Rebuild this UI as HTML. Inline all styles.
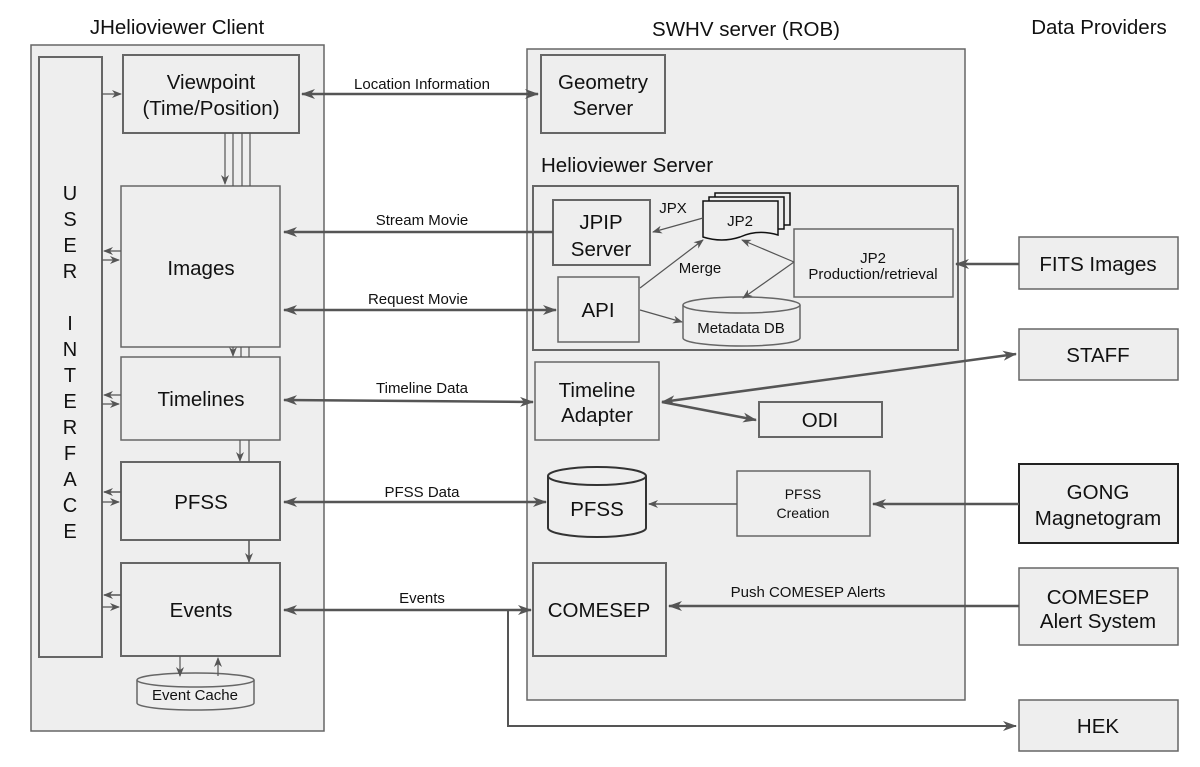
<!DOCTYPE html>
<html><head><meta charset="utf-8"><style>
html,body{margin:0;padding:0;background:#fff}
svg{display:block}
text{font-family:"Liberation Sans",sans-serif;fill:#111}
</style></head><body>
<svg width="1200" height="767" viewBox="0 0 1200 767" xmlns="http://www.w3.org/2000/svg">
<defs>
<marker id="a" markerWidth="10" markerHeight="8" refX="9" refY="4" orient="auto" markerUnits="userSpaceOnUse"><path d="M0,0 L10,4 L0,8 L3,4 z" fill="#555"/></marker>
<marker id="b" markerWidth="14" markerHeight="10" refX="13" refY="5" orient="auto" markerUnits="userSpaceOnUse"><path d="M0,0 L14,5 L0,10 L4,5 z" fill="#555"/></marker>
<marker id="bs" markerWidth="14" markerHeight="10" refX="1" refY="5" orient="auto" markerUnits="userSpaceOnUse"><path d="M14,0 L0,5 L14,10 L10,5 z" fill="#555"/></marker>
</defs>
<g stroke="#666" stroke-width="1.5" fill="#eee">
<rect x="31" y="45" width="293" height="686"/>
<rect x="527" y="49" width="438" height="651"/>
<rect x="39" y="57" width="63" height="600" stroke-width="2"/>
<rect x="123" y="55" width="176" height="78" stroke-width="2"/>
<rect x="121" y="186" width="159" height="161"/>
<rect x="121" y="357" width="159" height="83"/>
<rect x="121" y="462" width="159" height="78" stroke-width="2"/>
<rect x="121" y="563" width="159" height="93" stroke-width="2"/>
<rect x="541" y="55" width="124" height="78" stroke-width="2"/>
<rect x="533" y="186" width="425" height="164" stroke-width="2"/>
<rect x="553" y="200" width="97" height="65" stroke-width="2"/>
<rect x="558" y="277" width="81" height="65"/>
<rect x="794" y="229" width="159" height="68"/>
<rect x="535" y="362" width="124" height="78"/>
<rect x="759" y="402" width="123" height="35" stroke-width="2"/>
<rect x="737" y="471" width="133" height="65"/>
<rect x="533" y="563" width="133" height="93" stroke-width="2"/>
<rect x="1019" y="237" width="159" height="52"/>
<rect x="1019" y="329" width="159" height="51"/>
<rect x="1019" y="464" width="159" height="79" stroke="#222" stroke-width="2"/>
<rect x="1019" y="568" width="159" height="77"/>
<rect x="1019" y="700" width="159" height="51"/>
<path d="M137,680 v23 a58.5,7 0 0 0 117,0 v-23"/>
<ellipse cx="195.5" cy="680" rx="58.5" ry="7"/>
<path d="M683,305 v33 a58.5,8 0 0 0 117,0 v-33"/>
<ellipse cx="741.5" cy="305" rx="58.5" ry="8"/>
<path d="M548,476 v52 a49,9 0 0 0 98,0 v-52" stroke="#333" stroke-width="2"/>
<ellipse cx="597" cy="476" rx="49" ry="9" stroke="#333" stroke-width="2"/>
<rect x="715" y="193" width="75" height="32" stroke="#111"/>
<rect x="709" y="197" width="75" height="32" stroke="#111"/>
<path d="M703,201 h75 v34 q-20,-6 -38,2 q-18,6 -37,0 z" stroke="#111"/>
</g>
<g font-size="20.5" text-anchor="middle">
<text x="177" y="34">JHelioviewer Client</text>
<text x="746" y="36">SWHV server (ROB)</text>
<text x="1099" y="34">Data Providers</text>
<text x="211" y="89">Viewpoint</text><text x="211" y="115">(Time/Position)</text>
<text x="201" y="275">Images</text>
<text x="201" y="406">Timelines</text>
<text x="201" y="509">PFSS</text>
<text x="201" y="617">Events</text>
<text x="603" y="89">Geometry</text><text x="603" y="115">Server</text>
<text x="601" y="229">JPIP</text><text x="601" y="256">Server</text>
<text x="598" y="317">API</text>
<text x="597" y="397">Timeline</text><text x="597" y="422">Adapter</text>
<text x="820" y="427">ODI</text>
<text x="597" y="516">PFSS</text>
<text x="599" y="617">COMESEP</text>
<text x="1098" y="271">FITS Images</text>
<text x="1098" y="362">STAFF</text>
<text x="1098" y="499">GONG</text><text x="1098" y="525">Magnetogram</text>
<text x="1098" y="604">COMESEP</text><text x="1098" y="628">Alert System</text>
<text x="1098" y="733">HEK</text>
</g>
<text x="541" y="172" font-size="20.5">Helioviewer Server</text>
<g font-size="20" text-anchor="middle">
<text x="70" y="200">U</text><text x="70" y="226">S</text><text x="70" y="252">E</text><text x="70" y="278">R</text>
<text x="70" y="330">I</text><text x="70" y="356">N</text><text x="70" y="382">T</text><text x="70" y="408">E</text><text x="70" y="434">R</text><text x="70" y="460">F</text><text x="70" y="486">A</text><text x="70" y="512">C</text><text x="70" y="538">E</text>
</g>
<g font-size="15" text-anchor="middle">
<text x="740" y="226">JP2</text>
<text x="873" y="263">JP2</text><text x="873" y="279">Production/retrieval</text>
<text x="741" y="333">Metadata DB</text>
<text x="195" y="700">Event Cache</text>
<text x="803" y="499" font-size="14">PFSS</text><text x="803" y="518" font-size="14">Creation</text>
<text x="673" y="213">JPX</text>
<text x="700" y="273">Merge</text>
<text x="422" y="89">Location Information</text>
<text x="422" y="225">Stream Movie</text>
<text x="418" y="304">Request Movie</text>
<text x="422" y="393">Timeline Data</text>
<text x="422" y="497">PFSS Data</text>
<text x="422" y="603">Events</text>
<text x="808" y="597">Push COMESEP Alerts</text>
</g>
<g stroke="#555" fill="none">
<line x1="302" y1="94" x2="538" y2="94" stroke-width="2.5" marker-start="url(#bs)" marker-end="url(#b)"/>
<line x1="553" y1="232" x2="284" y2="232" stroke-width="2.5" marker-end="url(#b)"/>
<line x1="284" y1="310" x2="556" y2="310" stroke-width="2.5" marker-start="url(#bs)" marker-end="url(#b)"/>
<line x1="284" y1="400" x2="533" y2="402" stroke-width="2.5" marker-start="url(#bs)" marker-end="url(#b)"/>
<line x1="284" y1="502" x2="546" y2="502" stroke-width="2.5" marker-start="url(#bs)" marker-end="url(#b)"/>
<line x1="284" y1="610" x2="531" y2="610" stroke-width="2.5" marker-start="url(#bs)" marker-end="url(#b)"/>
<polyline points="508,610 508,726 1016,726" stroke-width="2" marker-end="url(#b)"/>
<line x1="1019" y1="606" x2="669" y2="606" stroke-width="2.5" marker-end="url(#b)"/>
<line x1="1019" y1="504" x2="873" y2="504" stroke-width="2.5" marker-end="url(#b)"/>
<line x1="737" y1="504" x2="649" y2="504" stroke-width="1.5" marker-end="url(#a)"/>
<line x1="1019" y1="264" x2="956" y2="264" stroke-width="2.5" marker-end="url(#b)"/>
<line x1="1016" y1="354" x2="662" y2="402" stroke-width="2.5" marker-start="url(#bs)" marker-end="url(#b)"/>
<line x1="662" y1="402" x2="756" y2="420" stroke-width="2.5" marker-end="url(#b)"/>
<line x1="703" y1="218" x2="653" y2="232" stroke-width="1.2" marker-end="url(#a)"/>
<line x1="640" y1="288" x2="703" y2="240" stroke-width="1.2" marker-end="url(#a)"/>
<line x1="640" y1="310" x2="682" y2="322" stroke-width="1.2" marker-end="url(#a)"/>
<line x1="794" y1="262" x2="742" y2="240" stroke-width="1.2" marker-end="url(#a)"/>
<line x1="794" y1="262" x2="743" y2="298" stroke-width="1.2" marker-end="url(#a)"/>
<line x1="102" y1="94" x2="121" y2="94" stroke-width="1.2" marker-end="url(#a)"/>
<line x1="121" y1="251" x2="104" y2="251" stroke-width="1.2" marker-end="url(#a)"/>
<line x1="102" y1="260" x2="119" y2="260" stroke-width="1.2" marker-end="url(#a)"/>
<line x1="121" y1="395" x2="104" y2="395" stroke-width="1.2" marker-end="url(#a)"/>
<line x1="102" y1="404" x2="119" y2="404" stroke-width="1.2" marker-end="url(#a)"/>
<line x1="121" y1="492" x2="104" y2="492" stroke-width="1.5" marker-end="url(#a)"/>
<line x1="102" y1="502" x2="119" y2="502" stroke-width="1.2" marker-end="url(#a)"/>
<line x1="121" y1="595" x2="104" y2="595" stroke-width="1.5" marker-end="url(#a)"/>
<line x1="102" y1="607" x2="119" y2="607" stroke-width="1.2" marker-end="url(#a)"/>
<line x1="225" y1="133" x2="225" y2="184" stroke-width="1.2" marker-end="url(#a)"/>
<line x1="233" y1="133" x2="233" y2="186" stroke-width="1.2"/>
<line x1="242" y1="133" x2="242" y2="186" stroke-width="1.2"/>
<line x1="250" y1="133" x2="250" y2="186" stroke-width="1.2"/>
<line x1="233" y1="347" x2="233" y2="356" stroke-width="1.2" marker-end="url(#a)"/>
<line x1="241" y1="347" x2="241" y2="357" stroke-width="1.2"/>
<line x1="249" y1="347" x2="249" y2="357" stroke-width="1.2"/>
<line x1="240" y1="440" x2="240" y2="461" stroke-width="1.2" marker-end="url(#a)"/>
<line x1="249" y1="440" x2="249" y2="462" stroke-width="1.2"/>
<line x1="249" y1="540" x2="249" y2="562" stroke-width="1.5" marker-end="url(#a)"/>
<line x1="180" y1="656" x2="180" y2="676" stroke-width="1.2" marker-end="url(#a)"/>
<line x1="218" y1="676" x2="218" y2="658" stroke-width="1.2" marker-end="url(#a)"/>
</g>
</svg>
</body></html>
